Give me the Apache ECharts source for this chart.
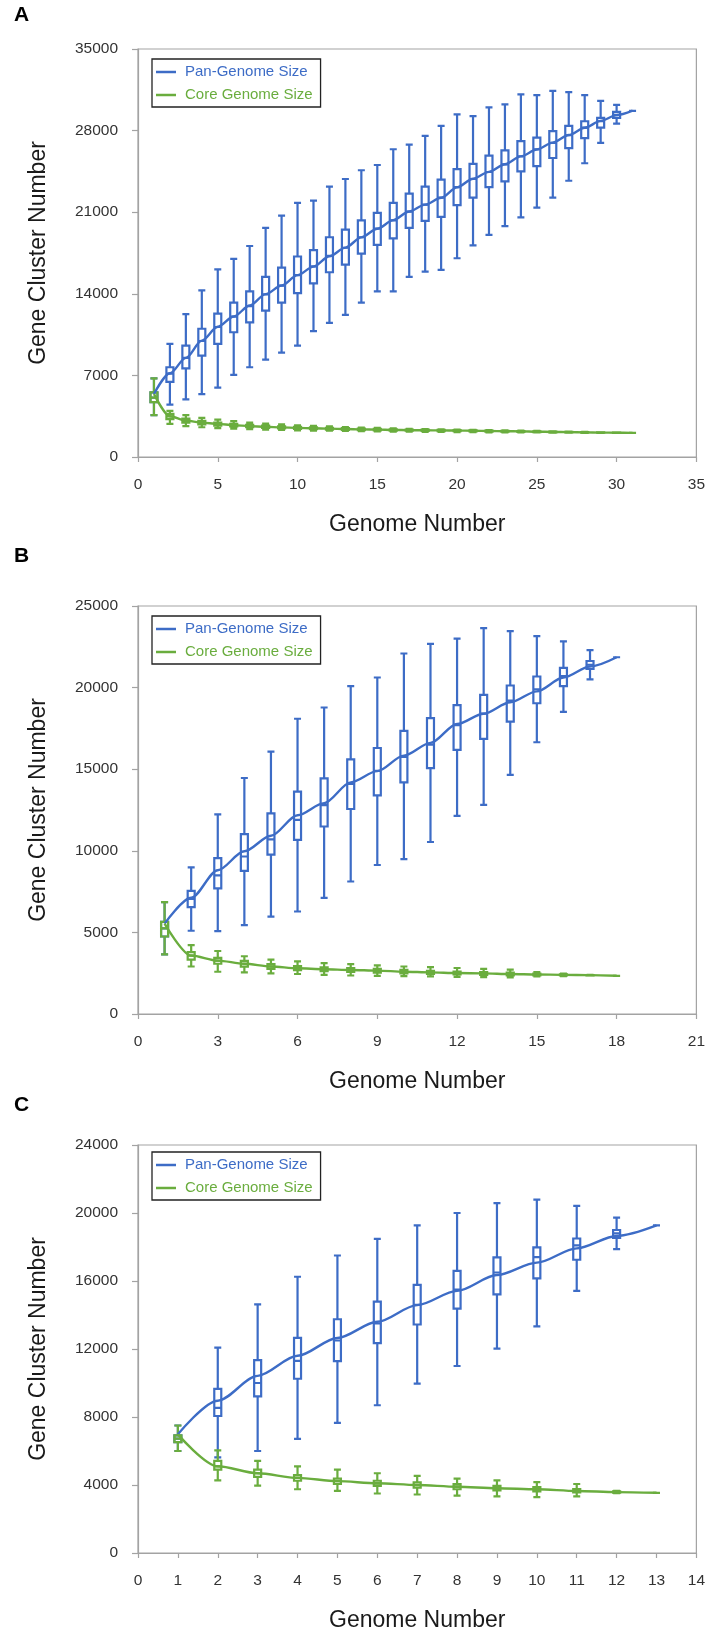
<!DOCTYPE html>
<html><head><meta charset="utf-8">
<script src="https://cdn.jsdelivr.net/npm/echarts@6/dist/echarts.min.js"></script>
<style>html,body{margin:0;padding:0;background:#fff}#c{width:708px;height:1635px}</style>
</head><body><div id="c"></div>
<script>
// ---------------- DATA ----------------
// Panel A
const genomesA = [1,2,3,4,5,6,7,8,9,10,11,12,13,14,15,16,17,18,19,20,21,22,23,24,25,26,27,28,29,30,31];
// [min, Q1, median, Q3, max]
const panBoxA = [
  [3600,4700,5100,5550,6750],[4500,6450,7150,7700,9700],[4950,7600,8500,9550,12250],[5400,8700,9950,11000,14300],
  [5950,9700,11150,12300,16100],[7050,10700,12050,13250,17000],[7700,11550,12950,14200,18100],[8350,12550,13950,15450,19650],
  [8950,13250,14700,16250,20700],[9550,14050,15600,17200,21800],[10800,14900,16350,17750,22000],[11500,15850,17250,18850,23200],
  [12200,16500,17950,19500,23850],[13250,17450,18850,20300,24600],[14200,18200,19600,20950,25050],[14200,18750,20300,21800,26400],
  [15450,19650,21050,22600,26800],[15900,20250,21650,23200,27550],[16050,20600,22250,23800,28400],[17050,21600,23150,24700,29400],
  [18150,22250,23850,25150,29250],[19050,23150,24450,25850,30000],[19800,23650,25100,26300,30250],[20550,24500,25800,27100,31100],
  [21400,24950,26400,27400,31050],[22250,25650,26950,27950,31400],[23700,26500,27600,28400,31300],[25200,27350,28250,28800,31050],
  [26950,28250,28800,29100,30550],[28600,29100,29350,29600,30200],[29700,29700,29700,29700,29700]
];
const panMeanA = [5400,7180,8500,9980,11170,12050,13000,13970,14710,15600,16330,17220,17960,18840,19580,20320,21060,21650,22240,23130,23870,24460,25110,25790,26380,26970,27620,28240,28830,29330,29710];
const coreBoxA = [
  [3600,4700,5100,5550,6750],[2850,3250,3480,3700,3950],[2650,2950,3130,3300,3600],[2550,2800,2950,3100,3350],
  [2480,2700,2840,2960,3200],[2430,2620,2730,2850,3070],[2380,2550,2650,2760,2950],[2350,2500,2590,2690,2870],
  [2320,2450,2540,2630,2800],[2290,2410,2500,2580,2720],[2270,2380,2460,2540,2670],[2250,2350,2430,2500,2620],
  [2230,2330,2400,2470,2570],[2210,2300,2370,2440,2530],[2200,2280,2350,2410,2490],[2180,2260,2320,2380,2450],
  [2170,2250,2300,2360,2420],[2160,2230,2290,2340,2400],[2150,2220,2280,2320,2370],[2140,2210,2270,2310,2350],
  [2130,2200,2250,2290,2330],[2120,2180,2230,2270,2310],[2110,2170,2210,2250,2290],[2110,2160,2200,2230,2270],
  [2100,2140,2170,2200,2240],[2090,2120,2150,2180,2210],[2080,2110,2130,2150,2180],[2070,2090,2110,2130,2150],
  [2070,2080,2095,2110,2120],[2070,2075,2080,2085,2090],[2070,2070,2070,2070,2070]
];
const coreMeanA = [5400,3490,3130,2950,2840,2730,2650,2590,2540,2500,2460,2430,2400,2370,2350,2320,2300,2290,2280,2270,2250,2230,2210,2200,2170,2150,2130,2110,2095,2080,2070];

// Panel B
const genomesB = [1,2,3,4,5,6,7,8,9,10,11,12,13,14,15,16,17,18];
const panBoxB = [
  [3650,4750,5250,5650,6850],[5100,6550,7050,7550,8980],[5080,7700,8500,9550,12230],[5440,8770,9650,11020,14460],
  [5970,9760,10700,12290,16080],[6280,10670,11900,13620,18090],[7120,11490,12800,14440,18780],[8120,12560,14100,15600,20090],
  [9130,13400,14900,16300,20620],[9490,14190,15750,17350,22090],[10540,15070,16500,18130,22680],[12140,16190,17700,18930,23000],
  [12820,16860,18400,19560,23650],[14650,17920,19200,20130,23460],[16650,19040,19900,20680,23150],[18510,20090,20700,21210,22830],
  [20510,21140,21400,21630,22300],[21860,21860,21860,21860,21860]
];
const panMeanB = [5540,7120,8810,9970,10920,12180,12920,14190,14880,15830,16610,17770,18400,19100,19770,20620,21290,21860];
const coreBoxB = [
  [3650,4750,5250,5650,6850],[2910,3330,3580,3790,4220],[2590,3080,3270,3440,3860],[2550,2900,3080,3250,3540],
  [2490,2770,2910,3050,3330],[2450,2680,2800,2930,3230],[2400,2620,2740,2860,3120],[2360,2580,2700,2810,3060],
  [2340,2540,2660,2760,2980],[2320,2490,2590,2700,2910],[2300,2460,2550,2650,2870],[2280,2420,2510,2600,2820],
  [2260,2400,2490,2570,2760],[2240,2370,2450,2530,2720],[2300,2370,2420,2470,2570],[2320,2370,2400,2430,2480],
  [2360,2370,2380,2390,2400],[2340,2340,2340,2340,2340]
];
const coreMeanB = [5540,3580,3270,3080,2910,2800,2740,2700,2660,2590,2550,2510,2490,2450,2420,2400,2380,2340];

// Panel C
const genomesC = [1,2,3,4,5,6,7,8,9,10,11,12,13];
const panBoxC = [
  [6000,6520,6730,6920,7500],[5620,8060,8540,9650,12080],[6000,9210,10000,11350,14620],[6710,10250,11300,12650,16250],
  [7650,11290,12500,13750,17500],[8690,12350,13500,14790,18480],[9960,13440,14600,15770,19270],[11000,14370,15500,16600,20000],
  [12020,15210,16500,17390,20580],[13330,16150,17400,17980,20790],[15420,17250,18100,18500,20420],[17870,18540,18800,19000,19730],
  [19270,19270,19270,19270,19270]
];
const panMeanC = [6980,8960,10420,11600,12650,13600,14580,15420,16350,17080,17920,18650,19270];
const coreBoxC = [
  [6000,6520,6730,6920,7500],[4270,4900,5100,5420,6040],[3960,4480,4690,4900,5420],[3750,4250,4420,4580,5100],
  [3650,4060,4230,4370,4900],[3500,3950,4100,4250,4690],[3440,3850,4000,4150,4540],[3380,3750,3900,4050,4370],
  [3330,3680,3810,3950,4270],[3290,3620,3750,3880,4170],[3330,3560,3650,3760,4060],[3520,3550,3580,3620,3650],
  [3540,3540,3540,3540,3540]
];
const coreMeanC = [6980,5100,4690,4420,4230,4100,4000,3900,3810,3750,3650,3580,3540];

const panelLetters = ['A','B','C'];
const xAxisTitle = 'Genome Number';
const yAxisTitle = 'Gene Cluster Number';
const seriesNames = ['Pan-Genome Size','Core Genome Size'];

// ---------------- STYLE / LAYOUT ----------------
const BLUE = '#3d6cc6';
const GREEN = '#6aad3e';
const AXIS = '#a3a3a3';
const FONT = '"Liberation Sans", Arial, sans-serif';

const panels = [
  {g: genomesA, pb: panBoxA, pm: panMeanA, cb: coreBoxA, cm: coreMeanA, top: 49, xmax: 35, xint: 5, ymax: 35000, yint: 7000, letterTop: 5, legTop: 59},
  {g: genomesB, pb: panBoxB, pm: panMeanB, cb: coreBoxB, cm: coreMeanB, top: 606, xmax: 21, xint: 3, ymax: 25000, yint: 5000, letterTop: 546, legTop: 616},
  {g: genomesC, pb: panBoxC, pm: panMeanC, cb: coreBoxC, cm: coreMeanC, top: 1145, xmax: 14, xint: 1, ymax: 24000, yint: 4000, letterTop: 1095, legTop: 1152}
];

const grids = [], xAxes = [], yAxes = [], series = [], legends = [], graphics = [];
panels.forEach((p, i) => {
  grids.push({left: 138, top: p.top, width: 559, height: 408, show: true, borderColor: AXIS, borderWidth: 1.2, backgroundColor: 'transparent'});
  xAxes.push({
    type: 'value', gridIndex: i, min: 0, max: p.xmax, interval: p.xint,
    name: xAxisTitle, nameLocation: 'middle', nameGap: 56,
    nameTextStyle: {fontFamily: FONT, fontSize: 23, color: '#1a1a1a'},
    axisLine: {show: true, onZero: false, lineStyle: {color: AXIS, width: 1.2}},
    axisTick: {show: true, inside: false, length: 5, lineStyle: {color: AXIS, width: 1.2}},
    axisLabel: {margin: 20, fontFamily: FONT, fontSize: 15.5, color: '#333'},
    splitLine: {show: false}
  });
  yAxes.push({
    type: 'value', gridIndex: i, min: 0, max: p.ymax, interval: p.yint,
    name: yAxisTitle, nameLocation: 'middle', nameGap: 88,
    nameTextStyle: {fontFamily: FONT, fontSize: 23, color: '#1a1a1a'},
    axisLine: {show: true, lineStyle: {color: AXIS, width: 1.2}},
    axisTick: {show: true, inside: false, length: 6, lineStyle: {color: AXIS, width: 1.2}},
    axisLabel: {margin: 20, fontFamily: FONT, fontSize: 15.5, color: '#333', formatter: v => String(v)},
    splitLine: {show: false}
  });
  const boxItems = (arr, col) => arr.map((b, k) => ({value: [p.g[k]].concat(b), itemStyle: {borderColor: col}}));
  const lineData = arr => arr.map((v, k) => [p.g[k], v]);
  // one boxplot series per panel (pan boxes first, core boxes drawn over them)
  series.push({
    name: 'boxes', type: 'boxplot', xAxisIndex: i, yAxisIndex: i, z: 2,
    boxWidth: [7, 7], data: boxItems(p.pb, BLUE).concat(boxItems(p.cb, GREEN)),
    itemStyle: {color: 'rgba(255,255,255,0)', borderColor: BLUE, borderWidth: 2.2}
  });
  series.push({
    name: seriesNames[0], type: 'line', xAxisIndex: i, yAxisIndex: i, z: 3,
    smooth: 0.3, smoothMonotone: 'x', symbol: 'none', data: lineData(p.pm),
    lineStyle: {color: BLUE, width: 2.4}, itemStyle: {color: BLUE}
  });
  series.push({
    name: seriesNames[1], type: 'line', xAxisIndex: i, yAxisIndex: i, z: 5,
    smooth: 0.3, smoothMonotone: 'x', symbol: 'none', data: lineData(p.cm),
    lineStyle: {color: GREEN, width: 2.4}, itemStyle: {color: GREEN}
  });
  legends.push({
    left: 152, top: p.legTop, orient: 'vertical', selectedMode: false,
    backgroundColor: '#fff', borderColor: '#222', borderWidth: 1.3,
    padding: [4, 8, 3, 4], itemGap: 5, itemWidth: 20, itemHeight: 2.5, icon: 'rect',
    data: [
      {name: seriesNames[0], itemStyle: {color: BLUE}, textStyle: {color: BLUE}},
      {name: seriesNames[1], itemStyle: {color: GREEN}, textStyle: {color: GREEN}}
    ],
    textStyle: {fontFamily: FONT, fontSize: 15, lineHeight: 18, padding: [0, 0, 0, 4]}
  });
  graphics.push({
    type: 'text', left: 14, top: p.letterTop,
    style: {text: panelLetters[i], font: 'bold 21px ' + FONT, fill: '#000'}
  });
});

const chart = echarts.init(document.getElementById('c'), null, {renderer: 'canvas'});
chart.setOption({
  animation: false,
  backgroundColor: '#fff',
  grid: grids, xAxis: xAxes, yAxis: yAxes, series: series, legend: legends, graphic: graphics
});
</script>
</body></html>
